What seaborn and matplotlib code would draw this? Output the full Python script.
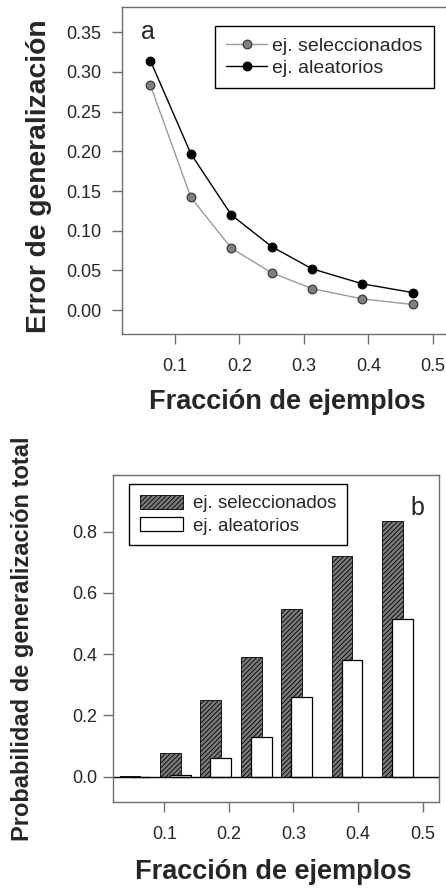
import numpy as np
import pandas as pd
import matplotlib
matplotlib.use("Agg")
import matplotlib.pyplot as plt
import seaborn as sns
from matplotlib.patches import Patch

# Fracción de ejemplos usados para entrenar
fraccion = [0.0625, 0.125, 0.1875, 0.25, 0.3125, 0.390625, 0.46875]

# (a) error de generalización
error_seleccionados = [0.283, 0.142, 0.078, 0.047, 0.027, 0.014, 0.007]
error_aleatorios = [0.314, 0.197, 0.120, 0.080, 0.052, 0.033, 0.022]

# (b) probabilidad de generalización total
prob_seleccionados = [0.003, 0.076, 0.250, 0.390, 0.549, 0.722, 0.835]
prob_aleatorios = [0.0, 0.005, 0.060, 0.131, 0.261, 0.381, 0.514]

etiquetas = ["ej. seleccionados", "ej. aleatorios"]
xticks = [0.1, 0.2, 0.3, 0.4, 0.5]
yticks_a = [0.00, 0.05, 0.10, 0.15, 0.20, 0.25, 0.30, 0.35]
yticks_b = [0.0, 0.2, 0.4, 0.6, 0.8]
xlabel = "Fracción de ejemplos"
ylabel_a = "Error de generalización"
ylabel_b = "Probabilidad de generalización total"

sns.set_theme(style="white")
plt.rcParams["font.family"] = ["Liberation Sans", "DejaVu Sans"]
plt.rcParams["hatch.linewidth"] = 0.6

W, H = 446, 888
fig = plt.figure(figsize=(W / 100, H / 100), dpi=100)


def box(l, t, r, b):
    return [l / W, 1 - b / H, (r - l) / W, (b - t) / H]


ax1 = fig.add_axes(box(122, 7, 452, 334))
ax2 = fig.add_axes(box(113.3, 475, 439.3, 801.7))

spine_col = "#6e6e6e"
tick_fs = 13
label_fs = 19.5

# ---------- panel a ----------
sns.lineplot(x=fraccion, y=error_seleccionados, ax=ax1, color="#9a9a9a",
             linewidth=1.0, marker="o", markersize=6.3, markerfacecolor="#7f7f7f",
             markeredgecolor="#303030", markeredgewidth=0.8, label=etiquetas[0])
sns.lineplot(x=fraccion, y=error_aleatorios, ax=ax1, color="black",
             linewidth=1.0, marker="o", markersize=6.3, markerfacecolor="black",
             markeredgecolor="black", markeredgewidth=0.8, label=etiquetas[1])

ax1.set_xlim(0.0184, 0.5293)
ax1.set_ylim(-0.0302, 0.3819)
ax1.set_xticks(xticks)
ax1.set_xticklabels([f"{v:.1f}" for v in xticks])
ax1.set_yticks(yticks_a)
ax1.set_yticklabels([f"{v:.2f}" for v in yticks_a])
ax1.tick_params(axis="x", direction="out", length=7.5, width=1, color=spine_col,
                labelsize=tick_fs, pad=10, bottom=True)
ax1.tick_params(axis="y", direction="out", length=7, width=1, color=spine_col,
                labelsize=tick_fs, pad=8, left=True)
ax1.set_xlabel(xlabel, fontsize=label_fs, fontweight="bold", va="center")
ax1.xaxis.set_label_coords(0.5, -0.207)
ax1.set_ylabel(ylabel_a, fontsize=20.3, fontweight="bold", va="center")
ax1.yaxis.set_label_coords(-0.2515, 0.482)
ax1.text(0.08, 0.925, "a", transform=ax1.transAxes, fontsize=18,
         ha="center", va="center")
leg1 = ax1.legend(loc="upper right", bbox_to_anchor=(0.946, 0.942),
                  frameon=True, fancybox=False, edgecolor="black", framealpha=1,
                  borderaxespad=0, fontsize=14, handlelength=2.1,
                  handletextpad=0.25, borderpad=0.6, labelspacing=0.19)
leg1.get_frame().set_linewidth(1.0)

# ---------- panel b ----------
ancho = 0.032
x_sel = np.array(fraccion) - 0.0155
x_ale = np.array(fraccion)
sns.barplot(x=x_sel, y=prob_seleccionados, ax=ax2, native_scale=True,
            width=ancho / 0.0625, color="#7a7a7a", saturation=1,
            edgecolor="black", linewidth=0.6, hatch="///////", errorbar=None)
sns.barplot(x=x_ale, y=prob_aleatorios, ax=ax2, native_scale=True,
            width=ancho / 0.0625, color="white", saturation=1,
            edgecolor="black", linewidth=0.9, errorbar=None)
ax2.axhline(0, color="black", linewidth=1.0)

ax2.set_xlim(0.0211, 0.5257)
ax2.set_ylim(-0.0816, 0.985)
ax2.set_xticks(xticks)
ax2.set_xticklabels([f"{v:.1f}" for v in xticks])
ax2.set_yticks(yticks_b)
ax2.set_yticklabels([f"{v:.1f}" for v in yticks_b])
ax2.tick_params(axis="x", direction="out", length=7, width=1, color=spine_col,
                labelsize=tick_fs, pad=10.5, bottom=True)
ax2.tick_params(axis="y", direction="out", length=7, width=1, color=spine_col,
                labelsize=tick_fs, pad=4.5, left=True)
ax2.set_xlabel(xlabel, fontsize=label_fs, fontweight="bold", va="center")
ax2.xaxis.set_label_coords(0.49, -0.214)
ax2.set_ylabel(ylabel_b, fontsize=17, fontweight="bold", va="center")
ax2.yaxis.set_label_coords(-0.277, 0.5)
ax2.text(0.934, 0.9, "b", transform=ax2.transAxes, fontsize=18,
         ha="center", va="center")
handles = [Patch(facecolor="#7a7a7a", edgecolor="black", hatch="///////",
                 linewidth=0.6),
           Patch(facecolor="white", edgecolor="black", linewidth=0.9)]
leg2 = ax2.legend(handles=handles, labels=etiquetas, loc="upper left",
                  bbox_to_anchor=(0.049, 0.9715), frameon=True, fancybox=False,
                  edgecolor="black", framealpha=1, borderaxespad=0,
                  fontsize=13.5, handlelength=2.3, handleheight=0.8,
                  handletextpad=0.57, borderpad=0.55, labelspacing=0.25)
leg2.get_frame().set_linewidth(1.0)

for ax in (ax1, ax2):
    for s in ax.spines.values():
        s.set_visible(True)
        s.set_color(spine_col)
        s.set_linewidth(1.0)
    ax.grid(False)

fig.savefig("out.png", dpi=100)
